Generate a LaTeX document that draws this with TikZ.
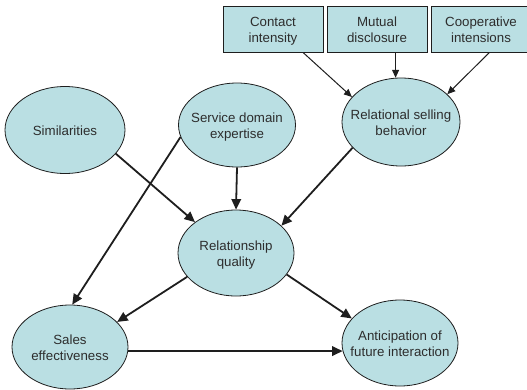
\documentclass[tikz,border=0pt]{standalone}
\usepackage{fontspec}
\setmainfont{Liberation Sans}
\usetikzlibrary{shapes.geometric,arrows.meta}
\definecolor{fillc}{RGB}{186,223,227}
\definecolor{txt}{RGB}{45,45,45}
\definecolor{ln}{RGB}{30,30,30}
\newcommand{\lbl}[1]{\makebox[0pt]{\raisebox{-6pt}[0pt][0pt]{\begin{tabular}{@{}c@{}}#1\end{tabular}}}}
\begin{document}
\begin{tikzpicture}[x=1pt,y=-1pt,
  font=\fontsize{13.3}{16.5}\selectfont, text=txt,
  ell/.style={ellipse,draw=ln,line width=0.8pt,fill=fillc,minimum width=116pt,minimum height=86pt,inner sep=0pt},
  bx/.style={rectangle,draw=ln,line width=0.8pt,fill=fillc,minimum width=100pt,minimum height=46pt,inner sep=0pt},
  thinarr/.style={draw=ln,line width=1pt,-{Triangle[length=8pt,width=7pt]}},
  thickarr/.style={draw=ln,line width=1.8pt,-{Triangle[length=10.5pt,width=9.5pt]}}]
\useasboundingbox (0,0) rectangle (527,389);
\node[bx] (ci) at (273,29) {\lbl{Contact\\intensity}};
\node[bx] (md) at (377,29) {\lbl{Mutual\\disclosure}};
\node[bx] (co) at (481,29) {\lbl{Cooperative\\intensions}};
\node[ell,minimum width=118pt,minimum height=88pt] (rsb) at (401,122) {\lbl{Relational selling\\behavior}};
\node[ell,minimum width=120pt,minimum height=87pt] (sim) at (65,130) {\lbl{Similarities}};
\node[ell,minimum width=117pt,minimum height=84pt] (sde) at (237,125) {\lbl{Service domain\\expertise}};
\node[ell] (rq) at (236,253) {\lbl{Relationship\\quality}};
\node[ell,minimum height=84pt] (se) at (70,347) {\lbl{Sales\\effectiveness}};
\node[ell] (ant) at (400,343) {\lbl{Anticipation of\\future interaction}};
% top arrows
\draw[thinarr] (ci.-38) -- (rsb.153);
\draw[thinarr] (md.south -| rsb.97) -- (rsb.97);
\draw[thinarr] (co.-70) -- (rsb.31);
% main arrows
\draw[thickarr] (sim.-25) -- (rq.143);
\draw[thickarr] (sde.south) -- (rq.north);
\draw[thickarr] (rsb.208) -- (rq.31);
\draw[thickarr] (sde.192) -- (se.87);
\draw[thickarr] (rq.206) -- (se.28);
\draw[thickarr] (rq.-23) -- (ant.153);
\draw[thickarr] (se.-4) -- (ant.188);
\end{tikzpicture}
\end{document}
